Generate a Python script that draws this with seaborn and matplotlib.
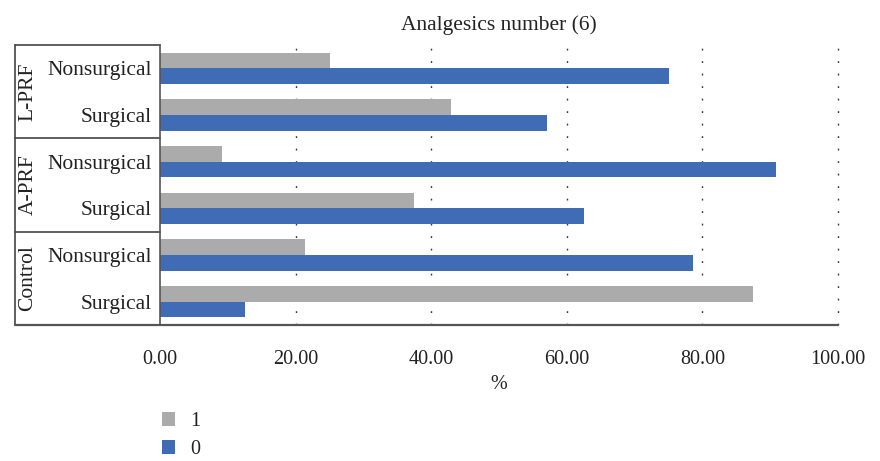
import matplotlib
matplotlib.use("Agg")
import matplotlib.pyplot as plt
import matplotlib.transforms as mtransforms
from matplotlib.patches import Patch
import pandas as pd
import seaborn as sns

# Data: share of patients (%) by analgesics-number answer
groups = ["L-PRF", "L-PRF", "A-PRF", "A-PRF", "Control", "Control"]
subgroups = ["Nonsurgical", "Surgical", "Nonsurgical", "Surgical", "Nonsurgical", "Surgical"]
series_1 = [25.00, 42.86, 9.09, 37.50, 21.43, 87.50]
series_0 = [75.00, 57.14, 90.91, 62.50, 78.57, 12.50]
series_names = ["1", "0"]
x_ticks = [0, 20, 40, 60, 80, 100]
title = "Analgesics number (6)"
x_label = "%"

colors = {"1": "#ABABAB", "0": "#3F6CB4"}

keys = [f"{g}|{s}" for g, s in zip(groups, subgroups)]
df = pd.DataFrame({
    "key": keys * 2,
    "value": series_1 + series_0,
    "series": ["1"] * len(keys) + ["0"] * len(keys),
})

sns.set_theme(style="white")
plt.rcParams["font.family"] = ["Liberation Serif", "DejaVu Serif"]
FS = 15.5
FS_TICK = 14.5
TXT = "#222222"

fig = plt.figure(figsize=(8.8, 4.61), dpi=100)
ax = fig.add_axes([160 / 880, 1 - 325 / 461, 678 / 880, 280 / 461])

sns.barplot(data=df, y="key", x="value", hue="series", order=keys,
            hue_order=series_names, palette=colors, orient="h",
            width=0.67, saturation=1, linewidth=0, edgecolor="none",
            ax=ax, legend=False)

ax.set_xlim(0, 100)
ax.set_ylim(5.5, -0.5)
ax.set_xticks(x_ticks)
ax.set_xticklabels([f"{v:.2f}" for v in x_ticks], fontsize=FS_TICK, color=TXT)
ax.set_yticks(range(len(keys)))
ax.set_yticklabels(subgroups, fontsize=FS, color=TXT)
ax.tick_params(axis="x", length=0, pad=18)
ax.tick_params(axis="y", length=0, pad=6)
ax.set_ylabel("")
ax.set_xlabel(x_label, fontsize=FS_TICK, color=TXT, labelpad=4)
ax.set_title(title, fontsize=FS, color=TXT, pad=11)

# dotted vertical gridlines, hidden behind the bars
for v in x_ticks[1:]:
    ax.axvline(v, color="#333333", linestyle=(0, (1.3, 7.7)), linewidth=1.0,
               zorder=0, clip_on=False)

for side in ["top", "right"]:
    ax.spines[side].set_visible(False)
ax.spines["left"].set_color("#555555")
ax.spines["left"].set_linewidth(1.2)
ax.spines["bottom"].set_visible(False)

# group box on the left of the category axis
blend = mtransforms.blended_transform_factory(ax.transAxes, ax.transData)
x_box = (15 - 160) / 678
line_kw = dict(transform=blend, color="#444444", linewidth=1.2, clip_on=False)
ax.plot([x_box, 0], [-0.5, -0.5], **line_kw)
ax.plot([x_box, 0], [1.5, 1.5], **line_kw)
ax.plot([x_box, 0], [3.5, 3.5], **line_kw)
ax.plot([x_box, x_box], [-0.5, 5.5], **line_kw)
ax.plot([x_box, 1.0], [5.5, 5.5], transform=blend, color="#555555",
        linewidth=1.6, clip_on=False)

x_grp = (28 - 160) / 678
for name, ymid in [("L-PRF", 0.5), ("A-PRF", 2.5), ("Control", 4.5)]:
    ax.text(x_grp, ymid, name, transform=blend, rotation=90, ha="center",
            va="center", fontsize=FS, color=TXT)

handles = [Patch(facecolor=colors[s], edgecolor="none") for s in series_names]
fig.legend(handles, series_names, loc="upper left",
           bbox_to_anchor=(154 / 880, 1 - 404 / 461), frameon=False,
           fontsize=FS_TICK, handlelength=0.65, handleheight=0.65,
           handletextpad=0.75, labelspacing=0.45, labelcolor=TXT,
           borderaxespad=0, borderpad=0.4)

fig.savefig("out.png", dpi=100)
